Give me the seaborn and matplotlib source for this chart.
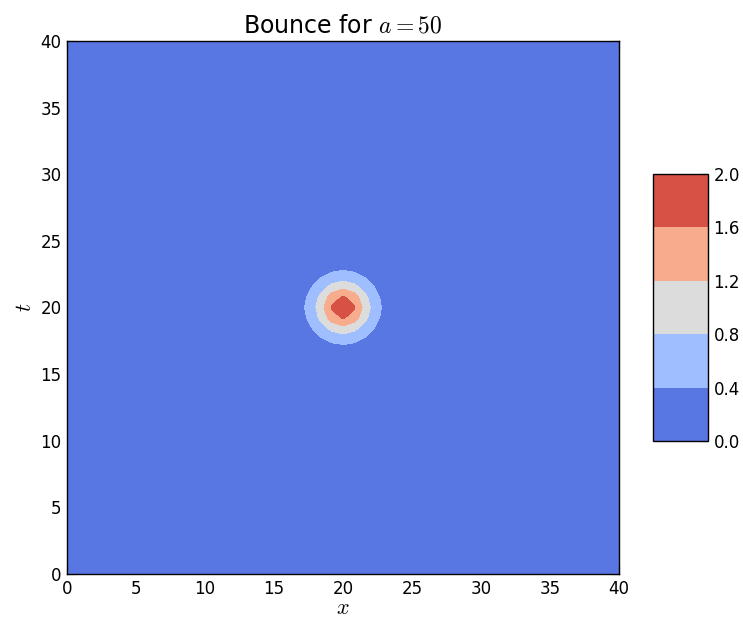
import numpy as np
import matplotlib
matplotlib.use("Agg")
import matplotlib.pyplot as plt
import seaborn as sns

# Bounce profile parameters
a_value = 50
amplitude = 1.95          # peak field value at the centre
width = 1.9               # sech^2 width of the bounce
center_x = 20.0
center_t = 20.0
grid_points = 51
x_range = [0, 40]
t_range = [0, 40]

levels = [0.0, 0.4, 0.8, 1.2, 1.6, 2.0]
x_ticks = [0, 5, 10, 15, 20, 25, 30, 35, 40]
t_ticks = [0, 5, 10, 15, 20, 25, 30, 35, 40]
cbar_ticks = [0.0, 0.4, 0.8, 1.2, 1.6, 2.0]

sns.set_style("white", {
    "xtick.direction": "in",
    "ytick.direction": "in",
    "xtick.bottom": True,
    "ytick.left": True,
    "axes.edgecolor": "black",
    "text.color": "black",
    "axes.labelcolor": "black",
    "xtick.color": "black",
    "ytick.color": "black",
})
plt.rcParams["font.family"] = ["DejaVu Sans"]
plt.rcParams["mathtext.fontset"] = "cm"

x = np.linspace(x_range[0], x_range[1], grid_points)
t = np.linspace(t_range[0], t_range[1], grid_points)
X, T = np.meshgrid(x, t)
R = np.hypot(X - center_x, T - center_t)
phi = amplitude / np.cosh(R / width) ** 2

fig = plt.figure(figsize=(7.43, 6.18), dpi=100)
ax = fig.add_axes([0.0902, 0.0712, 0.7430, 0.8625])
cax = fig.add_axes([0.8789, 0.2864, 0.0740, 0.4320])

cmap = sns.color_palette("coolwarm", as_cmap=True)
cs = ax.contourf(X, T, phi, levels=levels, cmap=cmap)

ax.set_xlim(*x_range)
ax.set_ylim(*t_range)
ax.set_xticks(x_ticks)
ax.set_yticks(t_ticks)
ax.tick_params(axis="both", which="both", direction="in", length=6, width=0.8,
               bottom=True, left=True, top=True, right=True,
               labelsize=12, pad=4, color="black", labelcolor="black")
for s in ax.spines.values():
    s.set_linewidth(1.0)
    s.set_color("black")
ax.set_xlabel("$x$", fontsize=16, labelpad=0, color="black")
ax.set_ylabel("$t$", fontsize=16, labelpad=4, color="black")
ax.set_title(f"Bounce for $a={a_value}$", fontsize=17, pad=6, color="black")

cb = fig.colorbar(cs, cax=cax, ticks=cbar_ticks)
cb.ax.set_yticklabels([f"{v:.1f}" for v in cbar_ticks])
cb.ax.tick_params(direction="in", right=True, length=6, width=0.8, labelsize=12,
                  pad=4, color="black", labelcolor="black")
cb.outline.set_linewidth(1.0)
cb.outline.set_edgecolor("black")

fig.savefig("out.png", dpi=100)
